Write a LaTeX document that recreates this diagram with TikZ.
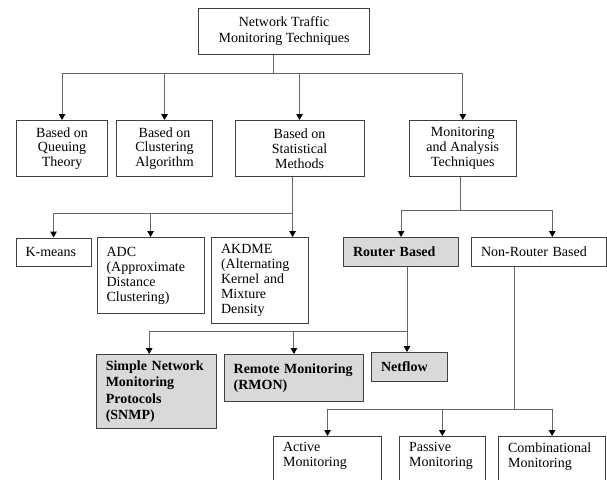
\documentclass[tikz,border=0pt]{standalone}
\usepackage{fontspec}
\setmainfont{Liberation Serif}
\usetikzlibrary{arrows.meta}

\begin{document}
\begin{tikzpicture}[x=1pt, y=-1pt,
    box/.style={draw=black!75, line width=1.1pt, anchor=north west,
                align=center, inner sep=0pt,
                font=\fontsize{14}{14.7}\selectfont},
    leaf/.style={draw=black!75, line width=1.1pt, anchor=north west,
                 align=left, inner xsep=9.5pt, inner ysep=3pt,
                 font=\fontsize{14}{15}\selectfont},
    grayleaf/.style={leaf, fill=black!15,
                     font=\fontsize{14}{16.5}\selectfont\bfseries},
    openleaf/.style={leaf, inner ysep=6pt, text depth=34pt},
    line/.style={draw=black!60, line width=1pt},
    arr/.style={line, -{Triangle[length=6pt,width=6.5pt,color=black]}}
  ]
  \useasboundingbox (0,0) rectangle (607,479);
  \clip (0,0) rectangle (607,479);

  % top and first level
  \node[box, minimum width=171pt, minimum height=46pt,
        font=\fontsize{14}{16}\selectfont] (top) at (198,8)
        {Network Traffic\\Monitoring Techniques};
  \node[box, minimum width=91pt, minimum height=56pt] (queue) at (16,120)
        {Based on\\Queuing\\Theory};
  \node[box, minimum width=96pt, minimum height=56pt] (clust) at (116,120)
        {Based on\\Clustering\\Algorithm};
  \node[box, minimum width=129pt, minimum height=56pt] (stat) at (234.5,120)
        {Based on\\Statistical\\Methods};
  \node[box, minimum width=106.5pt, minimum height=56pt] (mon) at (409,120)
        {Monitoring\\and Analysis\\Techniques};

  % statistical methods
  \node[leaf, text width=56pt, minimum height=28.5pt] (kmeans) at (15.5,237.5)
        {K-means};
  \node[leaf, text width=88pt, minimum height=75.7pt] (adc) at (96.5,237)
        {ADC\\(Approximate\\Distance\\Clustering)};
  \node[leaf, text width=78pt, minimum height=85.7pt] (akdme) at (211,237)
        {AKDME\\(Alternating\\Kernel and\\Mixture\\Density};

  % monitoring and analysis
  \node[grayleaf, text width=96pt, minimum height=29pt] (router) at (343,237)
        {Router Based};
  \node[leaf, text width=115.5pt, minimum height=29pt] (nonr) at (471,237)
        {Non-Router Based};

  % router based
  \node[grayleaf, text width=101pt, minimum height=74pt] (snmp) at (95.7,354)
        {Simple Network\\Monitoring\\Protocols\\(SNMP)};
  \node[grayleaf, text width=120.6pt, minimum height=46.7pt] (rmon) at (223.6,354)
        {Remote Monitoring\\(RMON)};
  \node[grayleaf, text width=56.5pt, minimum height=28.7pt] (netflow) at (371,352)
        {Netflow};

  % non-router based
  \node[openleaf, text width=89pt] (active) at (273,436)
        {Active\\Monitoring};
  \node[openleaf, text width=66.5pt] (passive) at (399,436)
        {Passive\\Monitoring};
  \node[openleaf, text width=88pt] (combo) at (498,436)
        {Combinational\\Monitoring};

  % connectors
  \coordinate (j1) at (273,73);
  \draw[line] (j1 |- top.south) -- (j1);
  \draw[line] (j1 -| queue) -- (j1 -| mon);
  \draw[arr] (j1 -| queue) -- (queue);
  \draw[arr] (j1 -| clust) -- (clust);
  \draw[arr] (j1 -| stat) -- (stat);
  \draw[arr] (j1 -| mon) -- (mon);

  \coordinate (j2) at (292.6,213);
  \draw[line] (j2 |- stat.south) -- (j2);
  \draw[line] (j2 -| kmeans) -- (j2);
  \draw[arr] (j2 -| kmeans) -- (kmeans);
  \draw[arr] (j2 -| adc) -- (adc);
  \draw[arr] (j2) -- (j2 |- akdme.north);

  \coordinate (j3) at (460.5,210);
  \coordinate (j3r) at (552.3,210);
  \draw[line] (j3 |- mon.south) -- (j3);
  \draw[line] (j3 -| router) -- (j3r);
  \draw[arr] (j3 -| router) -- (router);
  \draw[arr] (j3r) -- (j3r |- nonr.north);

  \coordinate (j4) at (407,331);
  \coordinate (j4l) at (149.2,331);
  \draw[arr] (j4 |- router.south) -- (j4 |- netflow.north);
  \draw[line] (j4l) -- (j4);
  \draw[arr] (j4l) -- (j4l |- snmp.north);
  \draw[arr] (j4 -| rmon) -- (rmon);

  \coordinate (j5) at (514.7,409);
  \draw[line] (j5 |- nonr.south) -- (j5);
  \draw[line] (j5 -| active) -- (j5 -| combo);
  \draw[arr] (j5 -| active) -- (active);
  \draw[arr] (j5 -| passive) -- (passive);
  \draw[arr] (j5 -| combo) -- (combo);
\end{tikzpicture}
\end{document}
